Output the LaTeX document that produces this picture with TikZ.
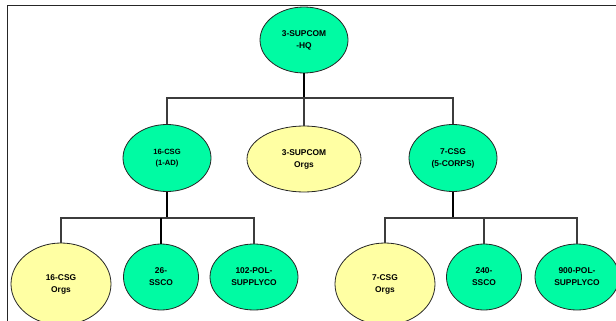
\documentclass[tikz,border=0pt]{standalone}
\usepackage{fontspec}
\setmainfont{Liberation Sans}
\usetikzlibrary{shapes.geometric}
\definecolor{unitgreen}{HTML}{00FBA3}
\definecolor{orgyellow}{HTML}{FFFFA3}
\definecolor{linkgray}{HTML}{3C3C3C}
\tikzset{
  unit/.style={ellipse, draw=black!85, line width=0.8pt, inner sep=0pt,
    align=center, font=\bfseries\fontsize{8.4}{12}\selectfont},
  hqunit/.style={unit, fill=unitgreen},
  csunit/.style={unit, fill=unitgreen},
  orgunit/.style={unit, fill=orgyellow},
  link/.style={draw=linkgray, line width=1.1pt},
  trunk/.style={draw=black, line width=1.1pt},
  frameline/.style={draw=black!85, line width=0.9pt}
}
\begin{document}
\begin{tikzpicture}[x=1pt, y=-1pt]
\useasboundingbox (0,0) rectangle (616,321);
\clip (0,0) rectangle (616,321);

% page frame
\coordinate (ftop) at (616,5.5);
\coordinate (fcorner) at (7,5.5);
\coordinate (fbottom) at (7,321);
\draw[frameline] (ftop) -- (fcorner) -- (fbottom);

% headquarters
\node[hqunit, minimum width=88pt, minimum height=66pt] (hq) at (304,40) {3-SUPCOM\\-HQ};

% second level
\node[csunit, minimum width=88pt, minimum height=67pt, font=\bfseries\fontsize{7.6}{11.5}\selectfont] (csg16) at (167,158) {16-CSG\\(1-AD)};
\node[orgunit, minimum width=114pt, minimum height=66pt] (suporgs) at (304,159) {3-SUPCOM\\Orgs};
\node[csunit, minimum width=88pt, minimum height=67pt] (csg7) at (453,158) {7-CSG\\(5-CORPS)};

% third level, left branch
\node[orgunit, minimum width=100pt, minimum height=82pt] (orgs16) at (61,284) {16-CSG\\Orgs};
\node[csunit, minimum width=75pt, minimum height=66pt] (ssco26) at (161,277) {26-\\SSCO};
\node[csunit, minimum width=88pt, minimum height=66pt] (pol102) at (254,277) {102-POL-\\SUPPLYCO};

% third level, right branch
\node[orgunit, minimum width=100pt, minimum height=82pt] (orgs7) at (385,284) {7-CSG\\Orgs};
\node[csunit, minimum width=75pt, minimum height=66pt] (ssco240) at (484,277) {240-\\SSCO};
\node[csunit, minimum width=84pt, minimum height=66pt] (pol900) at (577,277) {900-POL-\\SUPPLYCO};

% bus levels
\coordinate (busA) at (0,98);
\coordinate (busB) at (0,218);

% HQ to second level
\draw[trunk] (hq.south) -- (hq.south |- busA);
\draw[link] (csg16.north) -- (csg16.north |- busA) -- (csg7.north |- busA) -- (csg7.north);
\draw[link] (suporgs.north) -- (suporgs.north |- busA);

% 16-CSG to its units
\draw[trunk] (csg16.south) -- (csg16.south |- busB);
\draw[link] (orgs16.north) -- (orgs16.north |- busB) -- (pol102.north |- busB) -- (pol102.north);
\draw[trunk] (ssco26.north) -- (ssco26.north |- busB);

% 7-CSG to its units
\draw[trunk] (csg7.south) -- (csg7.south |- busB);
\draw[link] (orgs7.north) -- (orgs7.north |- busB) -- (pol900.north |- busB) -- (pol900.north);
\draw[link] (ssco240.north) -- (ssco240.north |- busB);
\end{tikzpicture}
\end{document}
